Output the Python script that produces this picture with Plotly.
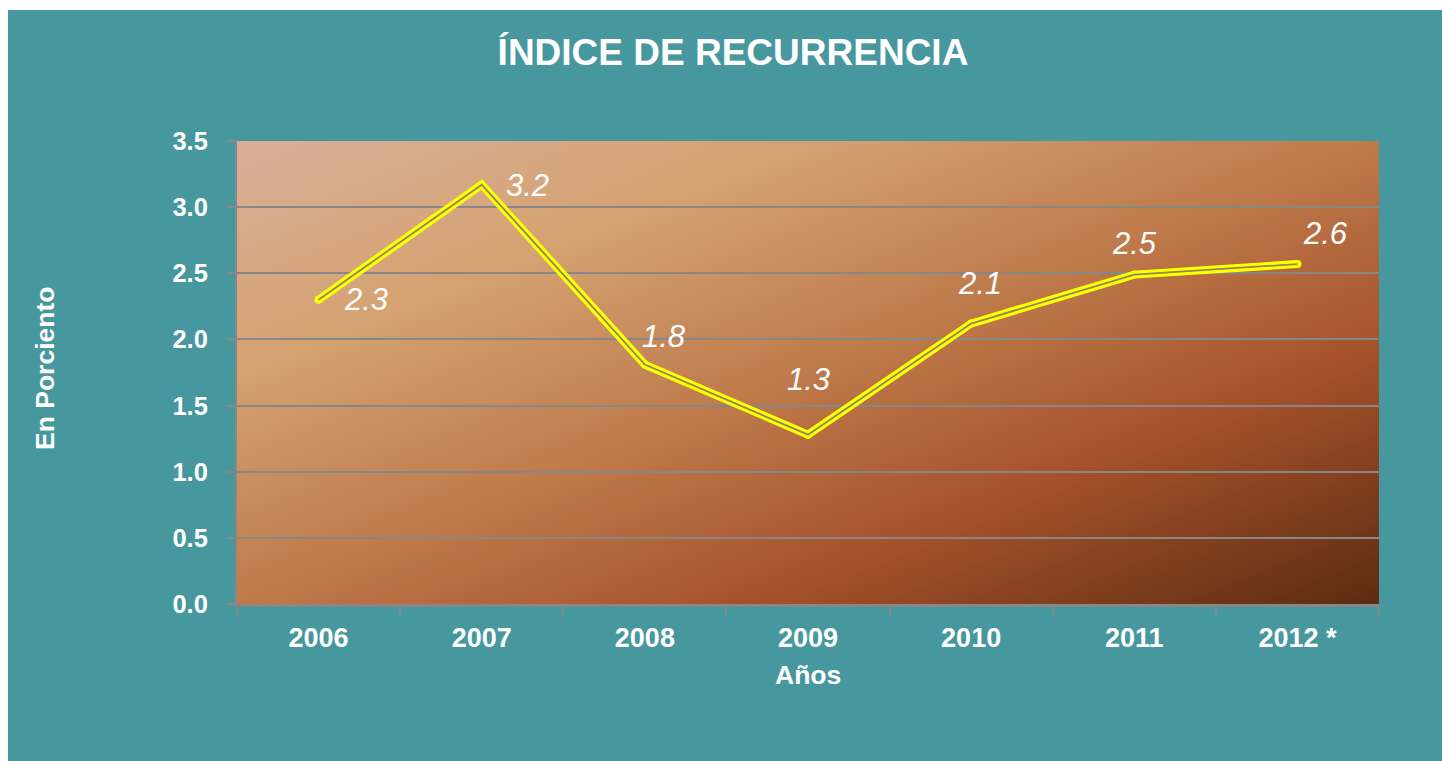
import base64
import plotly.graph_objects as go

# ---- data ----
years = ["2006", "2007", "2008", "2009", "2010", "2011", "2012 *"]
values = [2.30, 3.17, 1.81, 1.28, 2.12, 2.49, 2.57]
labels = [f"{v:.1f}" for v in values]
y_ticks = [0.0, 0.5, 1.0, 1.5, 2.0, 2.5, 3.0, 3.5]
y_tick_text = [f"{t:.1f}" for t in y_ticks]

# label offsets (pixels) relative to each point
label_dx = [47, 46, 19, 0, 9, 0, 28]
label_dy = [0, -1, 28, 55, 40, 31, 31]

W, H = 1442, 761
L, R, T, B = 237, 1379, 141, 604   # plot area in pixels
PW, PH = R - L, B - T

TEAL = "#46979E"
GRID = "#878787"
FONT = "Liberation Sans, Arial"

def px2paper_x(px):
    return (px - L) / PW

def px2paper_y(py):
    return (B - py) / PH

# gradient background for plot area
svg = f"""<svg xmlns='http://www.w3.org/2000/svg' width='{PW}' height='{PH}' viewBox='0 0 {PW} {PH}' preserveAspectRatio='none'>
<defs><linearGradient id='g' x1='0' y1='0' x2='1' y2='1'>
<stop offset='0' stop-color='#D7AF9A'/>
<stop offset='0.25' stop-color='#D5A271'/>
<stop offset='0.5' stop-color='#BE7A4B'/>
<stop offset='0.72' stop-color='#A5522A'/>
<stop offset='1' stop-color='#5C2B12'/>
</linearGradient></defs>
<rect x='0' y='0' width='{PW}' height='{PH}' fill='url(#g)'/>
</svg>"""
svg_uri = "data:image/svg+xml;base64," + base64.b64encode(svg.encode()).decode()

fig = go.Figure()

fig.add_trace(go.Scatter(
    x=years, y=values, mode="lines+markers",
    line=dict(color="#FFFF00", width=8),
    marker=dict(color="#FFFF00", size=8),
    hoverinfo="skip", showlegend=False,
))
fig.add_trace(go.Scatter(
    x=years, y=values, mode="lines",
    line=dict(color="#8F8760", width=1.8),
    hoverinfo="skip", showlegend=False,
))

annotations = []
for i, (v, t, dx, dy) in enumerate(zip(values, labels, label_dx, label_dy)):
    annotations.append(dict(
        x=i, y=v, xref="x", yref="y", text=f"<i>{t}</i>", showarrow=False,
        xshift=dx, yshift=dy, xanchor="center", yanchor="middle",
        font=dict(family=FONT, size=31, color="white"),
    ))

# axis titles
annotations.append(dict(
    x=px2paper_x(808), y=px2paper_y(675), xref="paper", yref="paper",
    text="<b>Años</b>", showarrow=False, xanchor="center", yanchor="middle",
    font=dict(family=FONT, size=26.5, color="white"),
))
annotations.append(dict(
    x=px2paper_x(45), y=px2paper_y(369), xref="paper", yref="paper",
    text="<b>En Porciento</b>", showarrow=False, xanchor="center", yanchor="middle",
    textangle=-90,
    font=dict(family=FONT, size=26.5, color="white"),
))

shapes = [
    dict(type="rect", xref="paper", yref="paper", layer="above",
         x0=px2paper_x(0), x1=px2paper_x(8), y0=px2paper_y(H), y1=px2paper_y(0),
         fillcolor="white", line=dict(width=0)),
    dict(type="rect", xref="paper", yref="paper", layer="above",
         x0=px2paper_x(0), x1=px2paper_x(W), y0=px2paper_y(10), y1=px2paper_y(0),
         fillcolor="white", line=dict(width=0)),
]

fig.update_layout(
    width=W, height=H,
    margin=dict(l=L, r=W - R, t=T, b=H - B, pad=0),
    paper_bgcolor=TEAL,
    plot_bgcolor="rgba(0,0,0,0)",
    hovermode=False,
    title=dict(
        text="<b>ÍNDICE DE RECURRENCIA</b>",
        x=733 / W, xanchor="center", xref="container",
        y=1 - 52 / H, yanchor="middle", yref="container",
        font=dict(family=FONT, size=37, color="white"),
    ),
    images=[dict(
        source=svg_uri, xref="paper", yref="paper", x=0, y=1,
        sizex=1, sizey=1, sizing="stretch", xanchor="left", yanchor="top",
        layer="below",
    )],
    annotations=annotations,
    shapes=shapes,
    xaxis=dict(
        type="category", categoryorder="array", categoryarray=years,
        range=[-0.5, len(years) - 0.5],
        showgrid=False, zeroline=False,
        showline=True, linecolor=GRID, linewidth=3,
        ticks="outside", tickson="boundaries", ticklen=8, tickwidth=2, tickcolor=GRID,
        ticklabelstandoff=8,
        tickfont=dict(family=FONT, size=27, color="white", weight="bold"),
    ),
    yaxis=dict(
        range=[0, 3.5], tickvals=y_ticks, ticktext=y_tick_text,
        showgrid=True, gridcolor=GRID, gridwidth=2,
        zeroline=False,
        showline=True, linecolor=GRID, linewidth=2,
        ticks="outside", ticklen=8, tickwidth=2, tickcolor=GRID,
        ticklabelstandoff=14,
        tickfont=dict(family=FONT, size=25.5, color="white", weight="bold"),
    ),
)

fig.write_html(
    "out.html",
    config={"displayModeBar": False, "staticPlot": True},
    post_script="document.body.style.margin='0';document.body.style.overflow='hidden';",
)
